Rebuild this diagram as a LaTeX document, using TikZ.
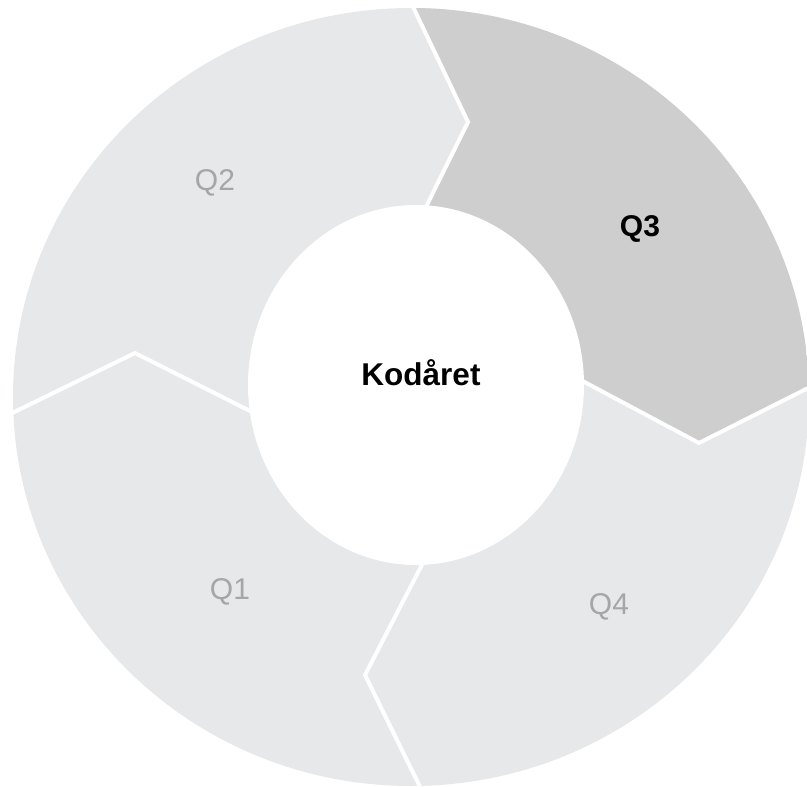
\documentclass[tikz,border=0pt]{standalone}
\usepackage{fontspec}
\setmainfont{Liberation Sans}
\definecolor{ringgray}{RGB}{231,232,233}
\definecolor{activegray}{RGB}{206,206,206}
\definecolor{labelgray}{RGB}{166,166,166}
\begin{document}
\begin{tikzpicture}[x=1pt,y=-1pt,
  sep/.style={draw=white,line width=4pt,line join=miter},
  qlabel/.style={anchor=base,text=labelgray,font=\fontsize{30}{36}\selectfont,inner sep=0pt},
  qactive/.style={anchor=base,text=black,font=\fontsize{30}{36}\selectfont\bfseries,inner sep=0pt}]
\useasboundingbox (0,0) rectangle (807,787);
\clip (0,0) rectangle (807,787);
% ring
\fill[ringgray] (411,397) ellipse [x radius=398, y radius=389];
% active segment Q3
\begin{scope}
\clip (411,397) ellipse [x radius=398, y radius=389];
\fill[activegray] (405,-10) -- (468,122) -- (427,205) -- (584,382) -- (699,443) -- (850,367) -- (850,-10) -- cycle;
\end{scope}
% centre
\fill[white] (416,385) ellipse [x radius=168, y radius=180];
% separators
\coordinate (tO) at (405,-10);
\coordinate (tT) at (468,122);
\coordinate (tI) at (422,215);
\coordinate (rI) at (575,377);
\coordinate (rT) at (699,443);
\coordinate (rO) at (830,377);
\coordinate (bI) at (427,555);
\coordinate (bT) at (365,675);
\coordinate (bO) at (425,797);
\coordinate (lO) at (0,419);
\coordinate (lT) at (135,353);
\coordinate (lI) at (258,415);
\draw[sep] (tO) -- (tT) -- (tI);
\draw[sep] (rI) -- (rT) -- (rO);
\draw[sep] (bI) -- (bT) -- (bO);
\draw[sep] (lO) -- (lT) -- (lI);
% labels
\node[qlabel] (q2) at (215,190) {Q2};
\node[qactive] (q3) at (640,236) {Q3};
\node[qactive,font=\fontsize{31.5}{38}\selectfont\bfseries] (centre) at (421,385) {Kodåret};
\node[qlabel] (q1) at (230,599) {Q1};
\node[qlabel] (q4) at (609,614) {Q4};
\end{tikzpicture}
\end{document}
